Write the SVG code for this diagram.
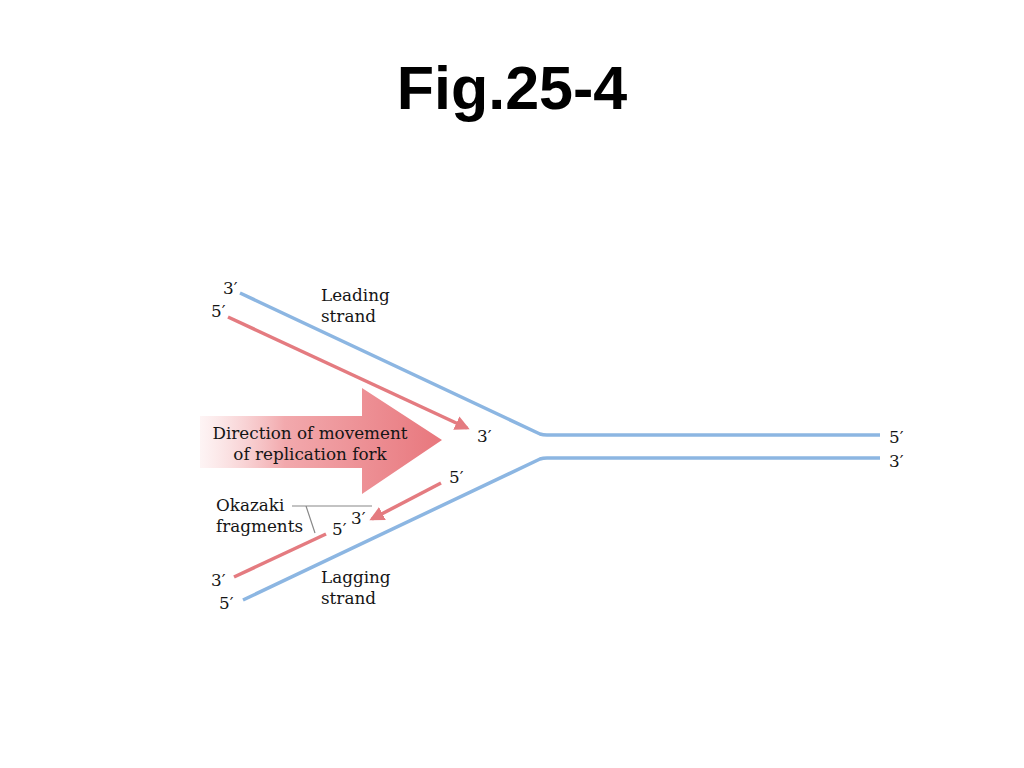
<svg xmlns="http://www.w3.org/2000/svg" width="1024" height="768" viewBox="0 0 1024 768">
<defs>
<linearGradient id="fork" x1="200" y1="0" x2="442" y2="0" gradientUnits="userSpaceOnUse">
<stop offset="0" stop-color="#f7c9cb" stop-opacity="0.2"/>
<stop offset="0.35" stop-color="#f2a9ad"/>
<stop offset="1" stop-color="#e8777d"/>
</linearGradient>
<marker id="ah" viewBox="0 0 10 10" refX="8" refY="5" markerWidth="4.2" markerHeight="4.2" orient="auto" markerUnits="strokeWidth">
<path d="M0,0 L10,5 L0,10 z" fill="#e47b80"/>
</marker>
<style>
.lbl{font-family:"DejaVu Serif","Liberation Serif",serif;font-size:16.8px;fill:#151515}
.blue{fill:none;stroke:#8cb6e2;stroke-width:3.5;stroke-linejoin:round}
.red{fill:none;stroke:#e47b80;stroke-width:3.5}
.lead{fill:none;stroke:#888;stroke-width:1.2}
</style>
</defs>
<rect width="1024" height="768" fill="#fff"/>
<text x="512" y="109" text-anchor="middle" font-family="Liberation Sans, Arial, sans-serif" font-weight="bold" font-size="61" fill="#000">Fig.25-4</text>

<g id="fork-arrow">
<path d="M200,416 L362,416 L362,388 L442,440 L362,494 L362,468 L200,468 z" fill="url(#fork)"/>
<text class="lbl" x="310" y="439" text-anchor="middle">Direction of movement</text>
<text class="lbl" x="310" y="460" text-anchor="middle">of replication fork</text>
</g>

<g id="connectors">
<path class="blue" d="M240,293 L540,434 Q543,435 547,435 L880,435"/>
<path class="blue" d="M243,600 L540,459 Q543,458 547,458 L880,458"/>
<line class="red" x1="228" y1="317" x2="467" y2="428" marker-end="url(#ah)"/>
<line class="red" x1="441" y1="483" x2="372" y2="519" marker-end="url(#ah)"/>
<line class="red" x1="326" y1="534" x2="234" y2="577"/>
<path class="lead" d="M292,506 L372,506 M306,506 L315,533"/>
</g>

<g id="leading-strand">
<text class="lbl" x="223" y="294">3′</text>
<text class="lbl" x="211" y="317">5′</text>
<text class="lbl" x="321" y="301">Leading</text>
<text class="lbl" x="321" y="322">strand</text>
<text class="lbl" x="477" y="442">3′</text>
</g>

<g id="parent-duplex">
<text class="lbl" x="889" y="443">5′</text>
<text class="lbl" x="889" y="467">3′</text>
</g>

<g id="lagging-strand">
<text class="lbl" x="449" y="483">5′</text>
<text class="lbl" x="351" y="524">3′</text>
<text class="lbl" x="332" y="535">5′</text>
<text class="lbl" x="216" y="511">Okazaki</text>
<text class="lbl" x="216" y="532">fragments</text>
<text class="lbl" x="211" y="586">3′</text>
<text class="lbl" x="219" y="609">5′</text>
<text class="lbl" x="321" y="583">Lagging</text>
<text class="lbl" x="321" y="604">strand</text>
</g>
</svg>
